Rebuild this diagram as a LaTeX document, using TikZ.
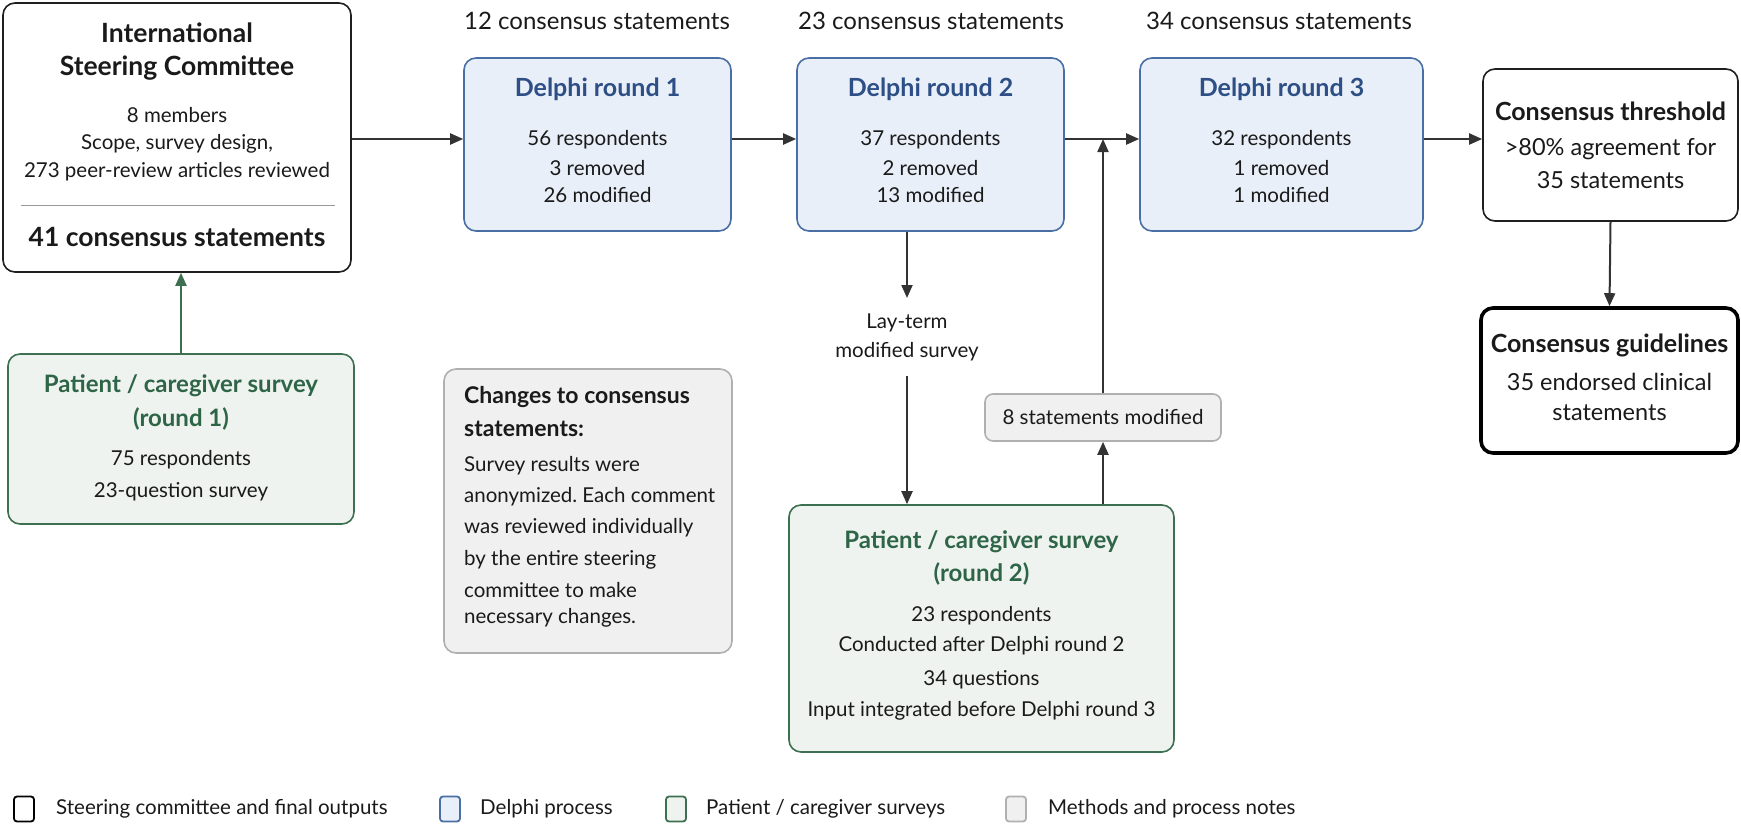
\documentclass[tikz,border=0pt]{standalone}
\usepackage{fontspec}
\setmainfont{Lato}
\usetikzlibrary{arrows.meta}
\definecolor{lblue}{HTML}{E9EFF8}
\definecolor{dblue}{HTML}{4A6FA5}
\definecolor{tblue}{HTML}{2D4F86}
\definecolor{lgreen}{HTML}{EEF3EF}
\definecolor{dgreen}{HTML}{3D7050}
\definecolor{tgreen}{HTML}{2F6547}
\definecolor{lgray}{HTML}{F0F0F0}
\definecolor{dgray}{HTML}{B0B0B0}
\definecolor{arrgray}{HTML}{333333}
\definecolor{txt}{HTML}{1A1A1A}
\frenchspacing
\begin{document}
\begin{tikzpicture}[x=1pt,y=-1pt,
  box/.style={rectangle, rounded corners=12pt, line width=1.6pt, inner sep=0pt},
  blackbox/.style={box, draw=black!88, fill=white},
  finalbox/.style={box, draw=black, line width=3.6pt, fill=white},
  bluebox/.style={box, draw=dblue, fill=lblue},
  greenbox/.style={box, draw=dgreen, fill=lgreen},
  graybox/.style={box, draw=dgray, fill=lgray},
  bigttl/.style={font=\fontsize{26.5}{30}\selectfont\bfseries, text=txt, inner sep=0pt},
  ttl/.style={font=\fontsize{25}{29}\selectfont\bfseries, text=txt, inner sep=0pt},
  bluettl/.style={font=\fontsize{25}{29}\selectfont\bfseries, text=tblue, inner sep=0pt},
  greenttl/.style={font=\fontsize{24}{28}\selectfont\bfseries, text=tgreen, inner sep=0pt},
  body/.style={font=\fontsize{20.5}{24}\selectfont, text=txt, inner sep=0pt},
  bigbody/.style={font=\fontsize{23.5}{27}\selectfont, text=txt, inner sep=0pt},
  toplbl/.style={font=\fontsize{24}{28}\selectfont, text=txt, inner sep=0pt},
  note/.style={font=\fontsize{20.5}{24}\selectfont, text=txt, inner sep=0pt, anchor=west},
  notettl/.style={font=\fontsize{23}{27}\selectfont\bfseries, text=txt, inner sep=0pt, anchor=west},
  leg/.style={font=\fontsize{20.5}{24}\selectfont, text=txt, inner sep=0pt, anchor=west},
  legsq/.style={rectangle, rounded corners=3pt, line width=1.8pt, minimum width=20pt, minimum height=25pt, inner sep=0pt},
  arr/.style={draw=arrgray, line width=2pt, -{Triangle[length=13pt,width=11pt]}},
  garr/.style={draw=dgreen, line width=2pt, -{Triangle[length=13pt,width=11pt]}}
]
\useasboundingbox (0,0) rectangle (1741,825);

% ---------- International Steering Committee ----------
\node[blackbox, minimum width=348pt, minimum height=269pt] (isc) at (177,137.5) {};
\node[bigttl] (isct1) at (177,33) {International};
\node[bigttl] (isct2) at (177,68) {Steering Committee};
\node[body] (iscb1) at (177,115) {8 members};
\node[body] (iscb2) at (177,144) {Scope, survey design,};
\node[body] (iscb3) at (177,172) {273 peer-review articles reviewed};
\draw[draw=black!40, line width=1pt] (21,205) -- (335,205);
\node[bigttl] (iscb4) at (177,237) {41 consensus statements};

% ---------- top labels ----------
\node[toplbl] (lbl1) at (597,21) {12 consensus statements};
\node[toplbl] (lbl2) at (931,21) {23 consensus statements};
\node[toplbl] (lbl3) at (1279,21) {34 consensus statements};

% ---------- Delphi rounds ----------
\node[bluebox, minimum width=267pt, minimum height=173pt] (d1) at (597.5,144.5) {};
\node[bluettl] (d1t) at (597.5,89) {Delphi round 1};
\node[body] (d1a) at (597.5,140) {56 respondents};
\node[body] (d1b) at (597.5,168) {3 removed};
\node[body] (d1c) at (597.5,195) {26 modified};

\node[bluebox, minimum width=267pt, minimum height=173pt] (d2) at (930.5,144.5) {};
\node[bluettl] (d2t) at (930.5,89) {Delphi round 2};
\node[body] (d2a) at (930.5,140) {37 respondents};
\node[body] (d2b) at (930.5,168) {2 removed};
\node[body] (d2c) at (930.5,195) {13 modified};

\node[bluebox, minimum width=283pt, minimum height=173pt] (d3) at (1281.5,144.5) {};
\node[bluettl] (d3t) at (1281.5,89) {Delphi round 3};
\node[body] (d3a) at (1281.5,140) {32 respondents};
\node[body] (d3b) at (1281.5,168) {1 removed};
\node[body] (d3c) at (1281.5,195) {1 modified};

% ---------- Consensus threshold / guidelines ----------
\node[blackbox, minimum width=255pt, minimum height=152pt] (thr) at (1610.5,145) {};
\node[ttl] (thrt) at (1610.5,111) {Consensus threshold};
\node[bigbody] (thra) at (1610.5,149) {>80\% agreement for};
\node[bigbody] (thrb) at (1610.5,180) {35 statements};

\node[finalbox, minimum width=257pt, minimum height=145pt] (gd) at (1609.5,380.5) {};
\node[ttl] (gdt) at (1609.5,345) {Consensus guidelines};
\node[bigbody] (gda) at (1609.5,382) {35 endorsed clinical};
\node[bigbody] (gdb) at (1609.5,413) {statements};

% ---------- Patient survey round 1 ----------
\node[greenbox, minimum width=346pt, minimum height=170pt] (p1) at (181,439) {};
\node[greenttl] (p1t1) at (181,386) {Patient / caregiver survey};
\node[greenttl] (p1t2) at (181,419) {(round 1)};
\node[body] (p1a) at (181,460) {75 respondents};
\node[body] (p1b) at (181,492) {23-question survey};

% ---------- Changes note ----------
\node[graybox, minimum width=288pt, minimum height=284pt] (chg) at (588,511) {};
\node[notettl] (chgt1) at (464,397) {Changes to consensus};
\node[notettl] (chgt2) at (464,429) {statements:};
\node[note] (chg1) at (464,466) {Survey results were};
\node[note] (chg2) at (464,497) {anonymized. Each comment};
\node[note] (chg3) at (464,528) {was reviewed individually};
\node[note] (chg4) at (464,560) {by the entire steering};
\node[note] (chg5) at (464,590) {committee to make};
\node[note] (chg6) at (464,618) {necessary changes.};

% ---------- Lay-term ----------
\node[body] (lay1) at (907,323) {Lay-term};
\node[body] (lay2) at (907,352) {modified survey};
\coordinate (layTop) at (907,298);
\coordinate (layBot) at (907,376);

% ---------- 8 statements modified ----------
\node[graybox, rounded corners=8pt, minimum width=236pt, minimum height=47pt] (stm) at (1103,417.5) {};
\node[body] (stmt) at (1103,417.5) {8 statements modified};

% ---------- Patient survey round 2 ----------
\node[greenbox, minimum width=385pt, minimum height=247pt] (p2) at (981.5,628.5) {};
\node[greenttl] (p2t1) at (981.5,542) {Patient / caregiver survey};
\node[greenttl] (p2t2) at (981.5,574) {(round 2)};
\node[body] (p2a) at (981.5,616) {23 respondents};
\node[body] (p2b) at (981.5,646) {Conducted after Delphi round 2};
\node[body] (p2c) at (981.5,680) {34 questions};
\node[body] (p2d) at (981.5,711) {Input integrated before Delphi round 3};

% ---------- connectors ----------
\coordinate (flow) at (0,139);
\draw[arr] (isc.east |- flow) -- (d1.west |- flow);
\draw[arr] (d1.east |- flow) -- (d2.west |- flow);
\draw[arr] (d2.east |- flow) -- (d3.west |- flow);
\draw[arr] (d3.east |- flow) -- (thr.west |- flow);
\draw[arr] (thr.south) -- (gd.north);
\draw[garr] (p1.north) -- (p1.north |- isc.south);
\draw[arr] (d2.south -| layTop) -- (layTop);
\draw[arr] (layBot) -- (layBot |- p2.north);
\draw[arr] (stm.south |- p2.north) -- (stm.south);
\draw[arr] (stm.north) -- (stm.north |- flow);

% ---------- legend ----------
\node[legsq, draw=black, fill=white] (lg1) at (24,809) {};
\node[leg] (lg1t) at (56,809) {Steering committee and final outputs};
\node[legsq, draw=dblue, fill=lblue] (lg2) at (450,809) {};
\node[leg] (lg2t) at (480,809) {Delphi process};
\node[legsq, draw=dgreen, fill=lgreen] (lg3) at (676,809) {};
\node[leg] (lg3t) at (706,809) {Patient / caregiver surveys};
\node[legsq, draw=dgray, fill=lgray] (lg4) at (1016,809) {};
\node[leg] (lg4t) at (1048,809) {Methods and process notes};
\end{tikzpicture}
\end{document}
